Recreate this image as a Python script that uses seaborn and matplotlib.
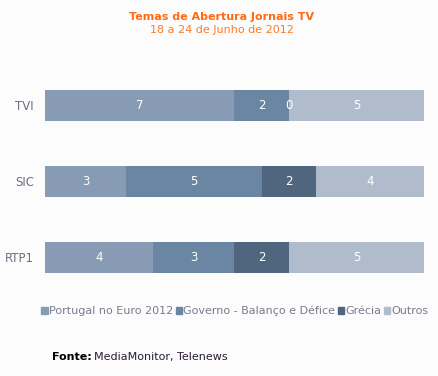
import numpy as np
import pandas as pd
import seaborn as sns
from matplotlib import pyplot as plt
from matplotlib.patches import Patch

# data
channels = ['TVI', 'SIC', 'RTP1']
topics = ['Portugal no Euro 2012', 'Governo - Balanço e Défice', 'Grécia', 'Outros']
portugal = [7, 3, 4]
governo = [2, 5, 3]
grecia = [0, 2, 2]
outros = [5, 4, 5]
colors = ['#879cb4', '#6b86a2', '#50667f', '#b0bccc']

sns.set_theme(style='white')
plt.rcParams['font.family'] = ['DejaVu Sans']

df = pd.DataFrame({'canal': channels, topics[0]: portugal, topics[1]: governo,
                   topics[2]: grecia, topics[3]: outros})
cum = df[topics].cumsum(axis=1)

fig = plt.figure(figsize=(4.39, 3.76), dpi=100, facecolor='#fcfcfc')
ax = fig.add_axes([45/439, 1-295/376, 379/439, 227.5/376])
ax.set_facecolor('#fcfcfc')

# stacked bars: draw cumulative totals from the outside in
for t, c in reversed(list(zip(topics, colors))):
    sns.barplot(x=cum[t], y=df['canal'], color=c, orient='h', width=0.41,
                linewidth=0, saturation=1, ax=ax)

for t in topics:
    for i, (v, end) in enumerate(zip(df[t], cum[t])):
        ax.text(end - v/2, i, str(v), ha='center', va='center', color='white', fontsize=8.5)

ax.set_xlim(0, 14)
ax.set_xlabel('')
ax.set_ylabel('')
ax.set_xticks([])
ax.tick_params(axis='y', length=0, pad=8, labelsize=8.5, labelcolor='#786a80')
sns.despine(ax=ax, left=True, bottom=True)

handles = [Patch(color=c, label=t) for t, c in zip(topics, colors)]
fig.legend(handles=handles, loc='center', bbox_to_anchor=(235/439, 1-311/376), ncol=4,
           frameon=False, handlelength=0.6, handleheight=0.6, handletextpad=0.1,
           columnspacing=0.2, fontsize=8, labelcolor='#7a7a8c', borderpad=0)

fig.text(0.505, 1-17/376, 'Temas de Abertura Jornais TV', ha='center', va='center',
         color='#ff6a13', fontsize=8, fontweight='bold')
fig.text(0.505, 1-30/376, '18 a 24 de Junho de 2012', ha='center', va='center',
         color='#ff7a26', fontsize=8)

fig.text(52/439, 1-357/376, 'Fonte:', ha='left', va='center', color='black',
         fontsize=8, fontweight='bold')
fig.text(94/439, 1-357/376, 'MediaMonitor, Telenews', ha='left', va='center',
         color='#2a1a3a', fontsize=8)

fig.savefig('out.png', dpi=100, facecolor=fig.get_facecolor())
